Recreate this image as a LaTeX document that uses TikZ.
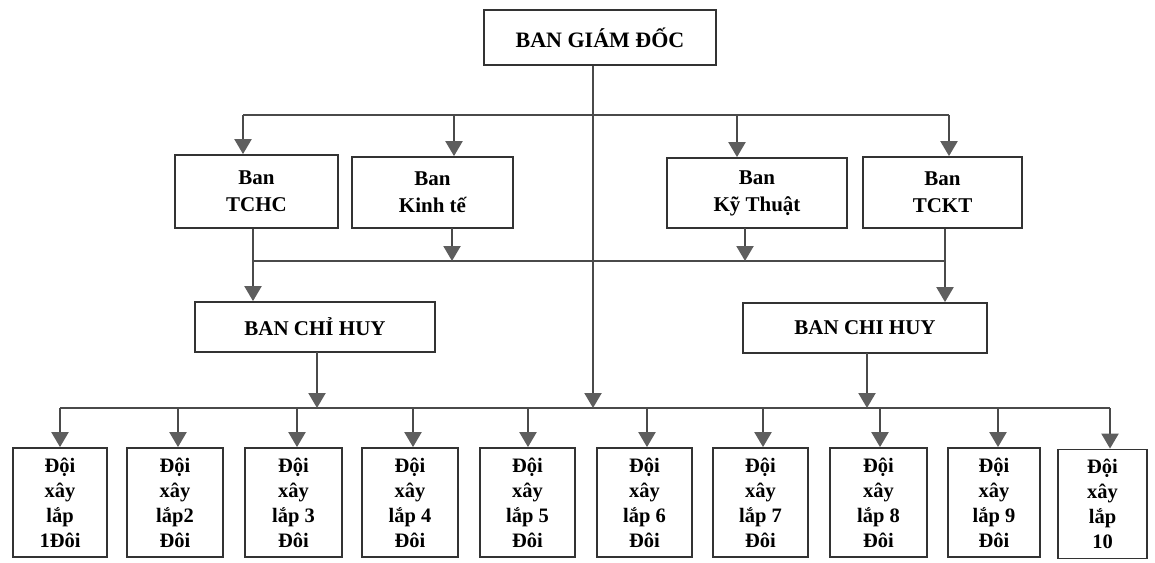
\documentclass[tikz,border=0pt]{standalone}
\usepackage{fontspec}
\setmainfont{Liberation Serif}
\usetikzlibrary{arrows.meta}
\definecolor{edge}{HTML}{333333}
\definecolor{wire}{HTML}{4A4A4A}
\definecolor{tip}{HTML}{5E5E5E}
\tikzset{
  box/.style={draw=edge, line width=1.8pt, fill=white, align=center, inner sep=0pt,
              font=\bfseries\fontsize{21}{27}\selectfont},
  team/.style={box, minimum height=109pt, font=\bfseries\fontsize{20.5}{25}\selectfont},
  wireline/.style={draw=wire, line width=2.2pt},
  feed/.style={wireline, -{Triangle[width=17pt,length=15pt,fill=tip,color=tip]}},
}
\begin{document}
\begin{tikzpicture}[x=1pt,y=-1pt]
\useasboundingbox (0,0) rectangle (1155,562);

% management
\node[box, minimum width=232pt, minimum height=55pt, font=\bfseries\fontsize{22}{26}\selectfont] (gd) at (600,37.5) {BAN GIÁM ĐỐC};

% departments
\node[box, minimum width=163pt, minimum height=73pt] (tchc) at (256.5,191.5) {Ban\\TCHC};
\node[box, minimum width=161pt, minimum height=71pt] (kte)  at (432.5,192.5) {Ban\\Kinh tế};
\node[box, minimum width=180pt, minimum height=70pt] (ktt)  at (757,193) {Ban\\Kỹ Thuật};
\node[box, minimum width=159pt, minimum height=71pt] (tckt) at (942.5,192.5) {Ban\\TCKT};

% site command
\node[box, minimum width=240pt, minimum height=50pt] (chl) at (315,327) {BAN CHỈ HUY};
\node[box, minimum width=244pt, minimum height=50pt] (chr) at (865,328) {BAN CHI HUY};

% construction teams
\node[team, minimum width=94pt] (d1)  at (60,502.5)    {Đội\\xây\\lắp\\1Đôi};
\node[team, minimum width=96pt] (d2)  at (175,502.5)   {Đội\\xây\\lắp2\\Đôi};
\node[team, minimum width=97pt] (d3)  at (293.5,502.5) {Đội\\xây\\lắp 3\\Đôi};
\node[team, minimum width=96pt] (d4)  at (410,502.5)   {Đội\\xây\\lắp 4\\Đôi};
\node[team, minimum width=95pt] (d5)  at (527.5,502.5) {Đội\\xây\\lắp 5\\Đôi};
\node[team, minimum width=95pt] (d6)  at (644.5,502.5) {Đội\\xây\\lắp 6\\Đôi};
\node[team, minimum width=95pt] (d7)  at (760.5,502.5) {Đội\\xây\\lắp 7\\Đôi};
\node[team, minimum width=97pt] (d8)  at (878.5,502.5) {Đội\\xây\\lắp 8\\Đôi};
\node[team, minimum width=92pt] (d9)  at (994,502.5)   {Đội\\xây\\lắp 9\\Đôi};
\node[team, minimum width=89pt] (d10) at (1102.5,504)  {Đội\\xây\\lắp\\10};

% bus lines
\coordinate (busTopL) at (243,115);
\coordinate (busTopR) at (949,115);
\coordinate (busMidL) at (253,261);
\coordinate (busMidR) at (945,261);
\coordinate (busLowL) at (60,408);
\coordinate (busLowR) at (1110,408);
\coordinate (busLowIn) at (593,408);

\draw[wireline] (busTopL) -- (busTopR);
\draw[wireline] (busMidL) -- (busMidR);
\draw[wireline] (busLowL) -- (busLowR);

% director to the lower bus
\draw[feed] (gd.south -| busLowIn) -- (busLowIn);

% upper bus to departments
\draw[feed] (busTopL) -- (tchc.north -| busTopL);
\draw[feed] (454,115) coordinate (t2) -- (kte.north -| t2);
\draw[feed] (737,115) coordinate (t3) -- (ktt.north -| t3);
\draw[feed] (busTopR) -- (tckt.north -| busTopR);

% departments to the middle bus and to site command
\draw[feed] (tchc.south -| busMidL) -- (chl.north -| busMidL);
\draw[feed] (tckt.south -| busMidR) -- (chr.north -| busMidR);
\draw[feed] (452,228) coordinate (m2) -- (m2 |- busMidL);
\draw[feed] (745,228) coordinate (m3) -- (m3 |- busMidL);

% site command to the lower bus
\draw[feed] (317,352) coordinate (c1) -- (c1 |- busLowL);
\draw[feed] (867,353) coordinate (c2) -- (c2 |- busLowL);

% lower bus to the teams
\foreach \n/\x in {d1/60,d2/178,d3/297,d4/413,d5/528,d6/647,d7/763,d8/880,d9/998,d10/1110}
  \draw[feed] (\x,408) -- (\n.north -| \x,0);
\end{tikzpicture}
\end{document}
